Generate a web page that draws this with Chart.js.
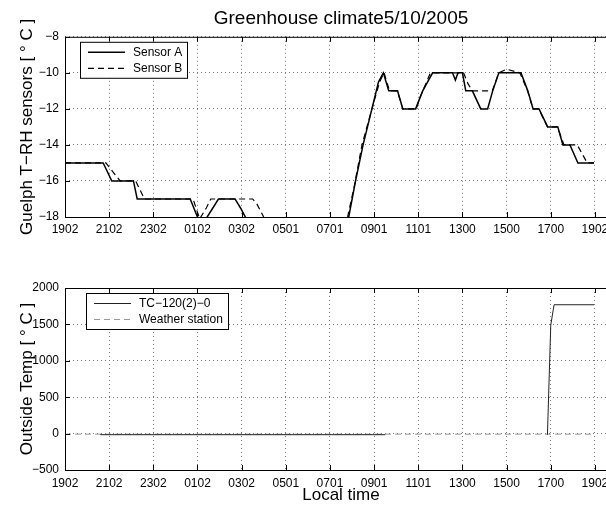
<!DOCTYPE html>
<html lang="en">
<head>
<meta charset="UTF-8">
<title>Greenhouse climate 5/10/2005</title>
<script src="https://cdn.jsdelivr.net/npm/chart.js"></script>
<style>
  html, body { margin: 0; padding: 0; background: #fff; overflow: hidden; }
  #wrap { position: relative; width: 606px; height: 506px; overflow: hidden; }
  #wrap canvas { position: absolute; left: 0; }
</style>
</head>
<body>
<div id="wrap">
  <canvas id="topChart" width="640" height="250" style="top:0"></canvas>
  <canvas id="bottomChart" width="640" height="256" style="top:250px"></canvas>
</div>
<script>
// x values are hours after 19:02 on 5/10/2005
const tickHours = [0, 2, 4, 6, 8, 10, 12, 14, 16, 18, 20, 22, 24];
const tickLabels = ['1902', '2102', '2302', '0102', '0302', '0501', '0701',
                    '0901', '1101', '1300', '1500', '1700', '1902'];

// greenhouse sensors (deg C)
const sensorAHours = [0, 1.73, 2.12, 3.1, 3.27, 5.67, 6.0, 6.15, 6.44, 6.95, 7.7, 7.95, 8.17,
  8.6, 10, 12, 12.6, 12.85, 13.16, 13.5, 13.9, 14.2, 14.42, 14.66, 15.06, 15.3, 15.88,
  16.2, 16.65, 17.55, 17.68, 17.8, 18.0, 18.15, 18.45, 18.83, 19.14, 19.37, 19.65,
  20.65, 20.96, 21.2, 21.47, 21.86, 22.32, 22.55, 22.87, 23.23, 23.96];
const sensorATemp = [-15, -15, -16, -16, -17, -17, -18, -18.3, -18, -17, -17, -17.5, -18,
  -19, -20, -20, -19, -18, -16, -14, -12, -10.5, -10, -11, -11, -12, -12,
  -11, -10, -10, -10.4, -10, -10, -11, -11, -12, -12, -11, -10,
  -10, -11, -12, -12, -13, -13, -14, -14, -15, -15];

const sensorBHours = [0, 1.85, 2.5, 3.2, 3.6, 5.8, 6.1, 6.4, 6.6, 8.5, 8.7, 9.0,
  9.5, 11, 12.5, 12.8, 13.1, 13.45, 13.9, 14.25, 14.45, 14.7, 15.05, 15.3, 15.9,
  16.1, 16.55, 18.05, 18.25, 18.45, 19.35, 19.65, 20.0, 20.6, 20.95, 21.2, 21.45,
  21.85, 22.3, 22.6, 23.2, 23.65, 23.96];
const sensorBTemp = [-15, -15, -16, -16, -17, -17, -18.1, -17.5, -17, -17, -17.3, -18,
  -19, -20, -19, -18, -16.3, -14, -12, -10.5, -10, -11, -11, -12, -12,
  -11.3, -10, -10, -10.6, -11, -11, -10, -9.8, -10, -11, -12, -12,
  -13, -13, -14, -14, -15, -15];

// outside temperature (deg C)
const tcHours = [1.6, 14.5, null, 21.85, 22.0, 22.15, 23.96];
const tcTemp = [-15, -15, null, -15, 1490, 1770, 1770];
const weatherHours = [0, 23.96];
const weatherTemp = [-8, -8];

const FONT = '"Liberation Sans", Arial, Helvetica, sans-serif';

function points(hours, vals) {
  return hours.map((h, i) => ({ x: h === null ? NaN : h, y: vals[i] }));
}

// box round the axes with inward ticks, like the original plot
const framePlugin = {
  id: 'frame',
  afterDatasetsDraw(chart) {
    const { ctx, chartArea: a, scales } = chart;
    ctx.save();
    ctx.strokeStyle = '#000';
    ctx.lineWidth = 1;
    ctx.strokeRect(a.left + 0.5, a.top + 0.5, a.right - a.left, a.bottom - a.top);
    ctx.beginPath();
    scales.x.ticks.forEach(t => {
      const px = Math.round(scales.x.getPixelForValue(t.value)) + 0.5;
      ctx.moveTo(px, a.bottom); ctx.lineTo(px, a.bottom - 5);
      ctx.moveTo(px, a.top); ctx.lineTo(px, a.top + 5);
    });
    scales.y.ticks.forEach(t => {
      const py = Math.round(scales.y.getPixelForValue(t.value)) + 0.5;
      ctx.moveTo(a.left, py); ctx.lineTo(a.left + 5, py);
      ctx.moveTo(a.right, py); ctx.lineTo(a.right - 5, py);
    });
    ctx.stroke();
    ctx.restore();
  }
};

// boxed legend in the upper left corner of the axes
const boxLegend = {
  id: 'boxLegend',
  afterDraw(chart, args, opts) {
    const { ctx, chartArea: a } = chart;
    const sets = chart.data.datasets;
    ctx.save();
    ctx.font = '12px ' + FONT;
    const textW = Math.max(...sets.map(d => ctx.measureText(d.label).width));
    const x = a.left + opts.dx, y = a.top + opts.dy;
    const w = Math.round(8 + 37 + 8 + textW + 5), h = 36;
    ctx.fillStyle = '#fff';
    ctx.fillRect(x, y, w, h);
    ctx.strokeStyle = '#000';
    ctx.lineWidth = 1;
    ctx.strokeRect(x + 0.5, y + 0.5, w, h);
    sets.forEach((d, i) => {
      const ly = y + 10 + i * 16;
      ctx.beginPath();
      ctx.setLineDash(d.borderDash || []);
      ctx.strokeStyle = d.borderColor;
      ctx.lineWidth = d.borderWidth;
      ctx.moveTo(x + 8, ly + 0.5);
      ctx.lineTo(x + 45, ly + 0.5);
      ctx.stroke();
      ctx.setLineDash([]);
      ctx.fillStyle = '#000';
      ctx.textBaseline = 'middle';
      ctx.fillText(d.label, x + 53, ly + 1);
    });
    ctx.restore();
  }
};

function makeOptions(cfg) {
  return {
    responsive: false,
    animation: false,
    devicePixelRatio: 1,
    layout: { padding: { left: 0, right: 23, top: cfg.padTop, bottom: 0 } },
    plugins: {
      legend: { display: false },
      tooltip: { enabled: false },
      title: cfg.title ? {
        display: true,
        text: cfg.title,
        fullSize: false,
        color: '#000',
        font: { family: FONT, size: 19, weight: 'normal' },
        padding: { top: 7, bottom: 7 }
      } : { display: false },
      boxLegend: { dx: cfg.legendDx, dy: 5 }
    },
    scales: {
      x: {
        type: 'linear',
        min: 0,
        max: 25,
        afterBuildTicks: s => { s.ticks = tickHours.map(v => ({ value: v })); },
        afterFit: s => { s.height = cfg.xHeight; },
        ticks: {
          autoSkip: false,
          maxRotation: 0,
          padding: cfg.xPad,
          color: '#000',
          font: { family: FONT, size: 12 },
          callback: (v, i) => tickLabels[i]
        },
        grid: { drawTicks: false, color: '#777', lineWidth: 1 },
        border: { display: false, dash: [1, 3] },
        title: cfg.xTitle ? {
          display: true, text: cfg.xTitle, color: '#000',
          font: { family: FONT, size: 17 }, padding: { top: 3, bottom: 0 }
        } : { display: false }
      },
      y: {
        min: cfg.yMin,
        max: cfg.yMax,
        afterFit: s => { s.width = 65; },
        ticks: {
          stepSize: cfg.yStep,
          padding: 6,
          color: '#000',
          font: { family: FONT, size: 12 },
          callback: v => String(v).replace('-', '\u2212')
        },
        grid: { drawTicks: false, color: '#777', lineWidth: 1 },
        border: { display: false, dash: [1, 3] },
        title: {
          display: true, text: cfg.yTitle, color: '#000',
          font: { family: FONT, size: 17 }, padding: { top: 17, bottom: 0 }
        }
      }
    }
  };
}

new Chart(document.getElementById('topChart'), {
  type: 'line',
  data: {
    datasets: [
      { label: 'Sensor A', data: points(sensorAHours, sensorATemp),
        borderColor: '#000', borderWidth: 1.5, pointRadius: 0, tension: 0 },
      { label: 'Sensor B', data: points(sensorBHours, sensorBTemp),
        borderColor: '#000', borderWidth: 1.2, borderDash: [6, 4], pointRadius: 0, tension: 0 }
    ]
  },
  options: makeOptions({
    title: 'Greenhouse climate5/10/2005', padTop: 0,
    yMin: -18, yMax: -8, yStep: 2,
    yTitle: 'Guelph T\u2212RH sensors [ \u00b0 C ]',
    xHeight: 33, xPad: 5, legendDx: 15
  }),
  plugins: [framePlugin, boxLegend]
});

new Chart(document.getElementById('bottomChart'), {
  type: 'line',
  data: {
    datasets: [
      { label: 'TC\u2212120(2)\u22120', data: points(tcHours, tcTemp), spanGaps: false,
        borderColor: '#222', borderWidth: 1, pointRadius: 0, tension: 0 },
      { label: 'Weather station', data: points(weatherHours, weatherTemp),
        borderColor: '#999', borderWidth: 1, borderDash: [6, 4], pointRadius: 0, tension: 0 }
    ]
  },
  options: makeOptions({
    title: null, padTop: 38,
    yMin: -500, yMax: 2000, yStep: 500,
    yTitle: 'Outside Temp [ \u00b0 C ]',
    xTitle: 'Local time',
    xHeight: 36, xPad: 6, legendDx: 21
  }),
  plugins: [framePlugin, boxLegend]
});
</script>
</body>
</html>
